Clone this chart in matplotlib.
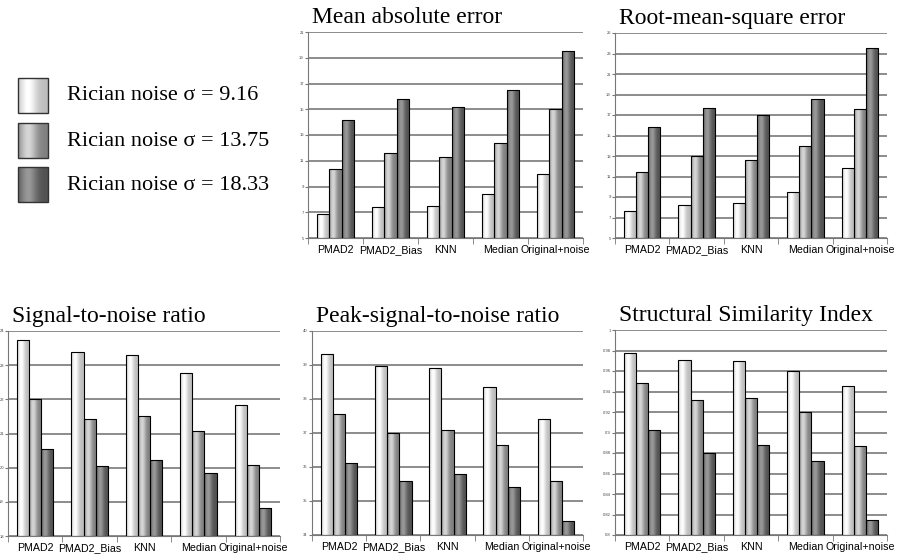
import numpy as np
import matplotlib
matplotlib.use('Agg')
import matplotlib.pyplot as plt
from matplotlib.patches import Rectangle

plt.rcParams['font.family'] = ['Liberation Sans', 'DejaVu Sans']

methods = ['PMAD2', 'PMAD2_Bias', 'KNN', 'Median', 'Original+noise']
noise_labels = ['Rician noise σ = 9.16', 'Rician noise σ = 13.75', 'Rician noise σ = 18.33']

# values, one list per noise level
mae_916 = [6.9, 7.4, 7.5, 8.4, 10.0]
mae_1375 = [10.35, 11.6, 11.3, 12.4, 15.0]
mae_1833 = [14.2, 15.8, 15.15, 16.5, 19.5]

rmse_916 = [7.6, 8.2, 8.4, 9.5, 11.85]
rmse_1375 = [11.4, 13.0, 12.6, 14.0, 17.55]
rmse_1833 = [15.8, 17.7, 17.0, 18.55, 23.55]

snr_916 = [23.75, 23.38, 23.3, 22.77, 21.83]
snr_1375 = [22.0, 21.41, 21.52, 21.06, 20.08]
snr_1833 = [20.56, 20.05, 20.22, 19.84, 18.81]

psnr_916 = [39.32, 38.97, 38.9, 38.34, 37.4]
psnr_1375 = [37.56, 36.99, 37.09, 36.64, 35.6]
psnr_1833 = [36.12, 35.59, 35.8, 35.4, 34.4]

ssim_916 = [0.978, 0.971, 0.970, 0.960, 0.945]
ssim_1375 = [0.948, 0.932, 0.934, 0.920, 0.887]
ssim_1833 = [0.902, 0.880, 0.888, 0.872, 0.815]

# (base colour at edges, highlight colour) for each series
shades = [((0.74, 0.74, 0.74), (1.0, 1.0, 1.0)),
          ((0.50, 0.50, 0.50), (0.84, 0.84, 0.84)),
          ((0.32, 0.32, 0.32), (0.60, 0.60, 0.60))]


def gradient(base, high, n=64):
    t = np.linspace(0, 1, n)
    prof = np.exp(-((t - 0.33) / 0.28) ** 2)
    base = np.array(base)
    high = np.array(high)
    img = base[None, :] + (high - base)[None, :] * prof[:, None]
    return img[None, :, :]


def panel(rect, title, series, ylim, yticks, ytlabels):
    ax = fig.add_axes(rect)
    x = np.arange(len(methods))
    w = 0.224
    for i, vals in enumerate(series):
        pos = x + (i - 1) * w
        bars = ax.bar(pos, np.array(vals) - ylim[0], w, bottom=ylim[0],
                      facecolor='none', edgecolor='black', lw=0.8, zorder=3)
        img_data = gradient(*shades[i])
        for b in bars:
            x0 = b.get_x()
            im = ax.imshow(img_data, extent=[x0, x0 + b.get_width(), ylim[0], ylim[0] + b.get_height()],
                           aspect='auto', zorder=2, interpolation='bilinear')
            im.set_clip_path(b)
    ax.set_xlim(-0.5, 4.5)
    ax.set_ylim(*ylim)
    ax.set_yticks(yticks)
    ax.set_yticklabels(ytlabels, fontsize=3, color='#444444')
    ax.yaxis.grid(True, color='#6e6e6e', lw=1.1, zorder=0)
    ax.set_axisbelow(True)
    ax.set_xticks(x)
    ax.set_xticklabels(methods, fontsize=7.7)
    ax.set_xticks(np.arange(-0.5, 5, 1), minor=True)
    ax.tick_params(axis='x', which='major', length=0, pad=5)
    ax.tick_params(axis='x', which='minor', length=4, color='#777777')
    ax.tick_params(axis='y', length=2, color='#777777', pad=1)
    for s in ['top', 'right']:
        ax.spines[s].set_visible(False)
    ax.spines['left'].set_color('#777777')
    ax.spines['bottom'].set_color('#777777')
    fig.text(rect[0] + 0.004, rect[1] + rect[3] + 0.008, title, fontsize=17,
             family='Liberation Serif', va='bottom', ha='left')
    return ax


fig = plt.figure(figsize=(9.05, 5.6), dpi=100)
W, H = 905.0, 560.0


def r(l, t, rr, b):
    return [l / W, 1 - b / H, (rr - l) / W, (b - t) / H]


yt = np.arange(5, 22, 2)
panel(r(308, 32, 583, 238), 'Mean absolute error', [mae_916, mae_1375, mae_1833],
      (5, 21), yt, [str(v) for v in yt])
yt = np.arange(5, 26, 2)
panel(r(615, 33, 887, 238), 'Root-mean-square error', [rmse_916, rmse_1375, rmse_1833],
      (5, 25), yt, [str(v) for v in yt])
yt = np.arange(18, 25, 1)
panel(r(8, 331, 280, 536), 'Signal-to-noise ratio', [snr_916, snr_1375, snr_1833],
      (18, 24), yt, [str(v) for v in yt])
yt = np.arange(34, 41, 1)
panel(r(312, 331, 583, 535), 'Peak-signal-to-noise ratio', [psnr_916, psnr_1375, psnr_1833],
      (34, 40), yt, [str(v) for v in yt])
yt = np.round(np.arange(0.8, 1.001, 0.02), 2)
panel(r(615, 330, 887, 535), 'Structural Similarity Index', [ssim_916, ssim_1375, ssim_1833],
      (0.8, 1.0), yt, ['%g' % v for v in yt])

# legend built from gradient boxes
lax = fig.add_axes([0, 0, 1, 1], zorder=-1)
lax.set_xlim(0, W)
lax.set_ylim(H, 0)
lax.axis('off')
box_tops = [78, 123, 167]
for i, lab in enumerate(noise_labels):
    top = box_tops[i]
    rect = Rectangle((18, top), 30, 35, facecolor='none', edgecolor='#333333', lw=1.0, zorder=3)
    lax.add_patch(rect)
    im = lax.imshow(gradient(*shades[i]), extent=[18, 48, top + 35, top], aspect='auto',
                    zorder=2, interpolation='bilinear')
    im.set_clip_path(rect)
    lax.text(67, top + 18, lab, fontsize=16, family='Liberation Serif', va='center', ha='left')
lax.set_xlim(0, W)
lax.set_ylim(H, 0)

fig.savefig('out.png', dpi=100)
